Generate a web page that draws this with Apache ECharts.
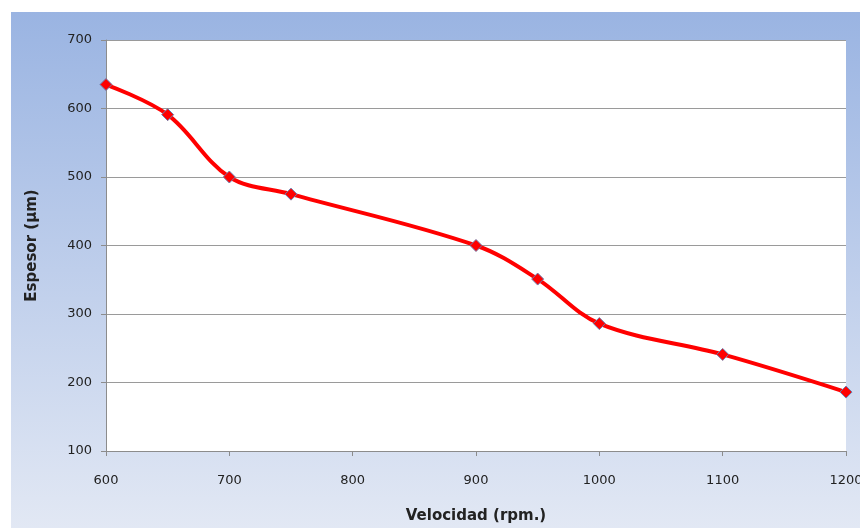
<!DOCTYPE html>
<html><head><meta charset="utf-8">
<script src="https://cdn.jsdelivr.net/npm/echarts@6/dist/echarts.min.js"></script>
<style>html,body{margin:0;padding:0;background:#fff}#c{width:860px;height:528px}</style>
</head><body><div id="c"></div>
<script>
const velocidad = [600, 650, 700, 750, 900, 950, 1000, 1100, 1200];
const espesor = [635, 591, 500, 475, 400, 351, 286, 241, 186];
const xTitle = 'Velocidad (rpm.)';
const yTitle = 'Espesor (µm)';

const chart = echarts.init(document.getElementById('c'));
const font = 'DejaVu Sans';
chart.setOption({
  animation: false,
  graphic: [{
    type: 'rect', z: -10, left: 11, top: 12,
    shape: { width: 849, height: 516 },
    style: { fill: new echarts.graphic.LinearGradient(0, 0, 0, 1, [
      { offset: 0, color: '#9ab4e2' }, { offset: 1, color: '#e2e8f4' }]) }
  }, {
    type: 'rect', z: -5, left: 106, top: 40,
    shape: { width: 740, height: 411 },
    style: { fill: '#ffffff' }
  }],
  grid: { left: 106, top: 40, width: 740, height: 411, containLabel: false, outerBoundsMode: 'none' },
  xAxis: {
    type: 'value', min: 600, max: 1200, interval: 100,
    name: xTitle, nameLocation: 'middle', nameGap: 58,
    nameTextStyle: { fontFamily: font, fontSize: 15, fontWeight: 'bold', color: '#222' },
    axisLine: { show: true, lineStyle: { color: '#8c8c8c', width: 1 } },
    axisTick: { show: true, length: 5, lineStyle: { color: '#8c8c8c' } },
    axisLabel: { fontFamily: font, fontSize: 13, color: '#222', margin: 23, formatter: v => String(v), hideOverlap: false },
    splitLine: { show: false }
  },
  yAxis: {
    type: 'value', min: 100, max: 700, interval: 100,
    name: yTitle, nameLocation: 'middle', nameGap: 66, nameRotate: 90,
    nameTextStyle: { fontFamily: font, fontSize: 15, fontWeight: 'bold', color: '#222' },
    axisLine: { show: true, lineStyle: { color: '#8c8c8c', width: 1 } },
    axisTick: { show: true, length: 5, lineStyle: { color: '#8c8c8c' } },
    axisLabel: { fontFamily: font, fontSize: 13, color: '#222', margin: 14, formatter: v => String(v) },
    splitLine: { show: true, lineStyle: { color: '#9a9a9a', width: 1 } }
  },
  series: [{
    type: 'line',
    data: velocidad.map((v, i) => [v, espesor[i]]),
    smooth: 0.35,
    symbol: 'diamond', symbolSize: 12,
    lineStyle: { color: '#ff0000', width: 4 },
    itemStyle: { color: '#ff0000', borderColor: '#6b7fb0', borderWidth: 1 }
  }]
});
</script></body></html>
